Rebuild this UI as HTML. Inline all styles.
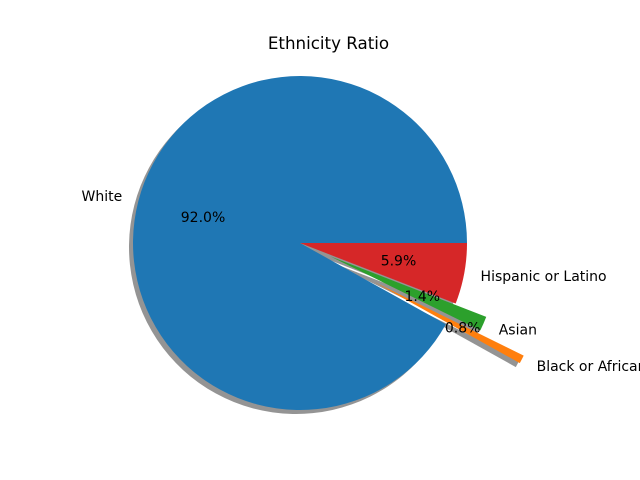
<!DOCTYPE html>
<html><head><meta charset="utf-8"><style>html,body{margin:0;padding:0;background:#fff}svg{display:block}text{font-family:"DejaVu Sans","Liberation Sans",sans-serif}</style></head>
<body>
<svg id="chart" width="640" height="480" viewBox="0 0 640 480">
<rect width="640" height="480" fill="#fff"/>
<text x="328.5" y="49" text-anchor="middle" font-size="16.7" fill="#000">Ethnicity Ratio</text>
<g id="shadows"></g>
<g id="wedges"></g>
<g id="labels"></g>
</svg>
<script>
const categories = ["White", "Black or African American", "Asian", "Hispanic or Latino"];
const values = [92.0, 0.8, 1.4, 5.9];
const explodes = [0, 0.5, 0.2, 0];
const colors = ["#1f77b4", "#ff7f0e", "#2ca02c", "#d62728"];
const pctLabels = ["92.0%", "0.8%", "1.4%", "5.9%"];

const cx = 300, cy = 243, R = 167;
const NS = "http://www.w3.org/2000/svg";
const total = values.reduce((a, b) => a + b, 0);
function pt(ox, oy, r, deg) { const a = deg * Math.PI / 180; return [ox + r * Math.cos(a), oy - r * Math.sin(a)]; }
function wedgePath(ox, oy, a0, a1) {
  const p0 = pt(ox, oy, R, a0), p1 = pt(ox, oy, R, a1);
  const large = (a1 - a0) > 180 ? 1 : 0;
  return `M${ox},${oy} L${p0[0]},${p0[1]} A${R},${R} 0 ${large} 0 ${p1[0]},${p1[1]} Z`;
}
const sh = document.getElementById('shadows'), wg = document.getElementById('wedges'), lb = document.getElementById('labels');
let start = 0;
values.forEach((v, i) => {
  const sweep = v / total * 360, a0 = start, a1 = start + sweep, mid = (a0 + a1) / 2;
  start = a1;
  const off = pt(0, 0, explodes[i] * R, mid);
  const ox = cx + off[0], oy = cy + off[1];
  const s = document.createElementNS(NS, 'path');
  s.setAttribute('d', wedgePath(ox - 4, oy + 4, a0, a1));
  s.setAttribute('fill', '#5a5a5a'); s.setAttribute('fill-opacity', '0.65');
  
  
  sh.appendChild(s);
  const w = document.createElementNS(NS, 'path');
  w.setAttribute('d', wedgePath(ox, oy, a0, a1));
  w.setAttribute('fill', colors[i]);
  
  
  wg.appendChild(w);
  const lp = pt(ox, oy, 1.1 * R, mid);
  const t = document.createElementNS(NS, 'text');
  t.setAttribute('x', lp[0]); t.setAttribute('y', lp[1] + 4);
  t.setAttribute('font-size', '14');
  t.setAttribute('text-anchor', Math.cos(mid * Math.PI / 180) < 0 ? 'end' : 'start');
  t.textContent = categories[i];
  
  
  lb.appendChild(t);
  const pp = pt(ox, oy, 0.6 * R, mid);
  const p = document.createElementNS(NS, 'text');
  p.setAttribute('x', pp[0]); p.setAttribute('y', pp[1] + 4);
  p.setAttribute('font-size', '14'); p.setAttribute('text-anchor', 'middle');
  p.textContent = pctLabels[i];
  
  
  lb.appendChild(p);
});
</script>
</body></html>
